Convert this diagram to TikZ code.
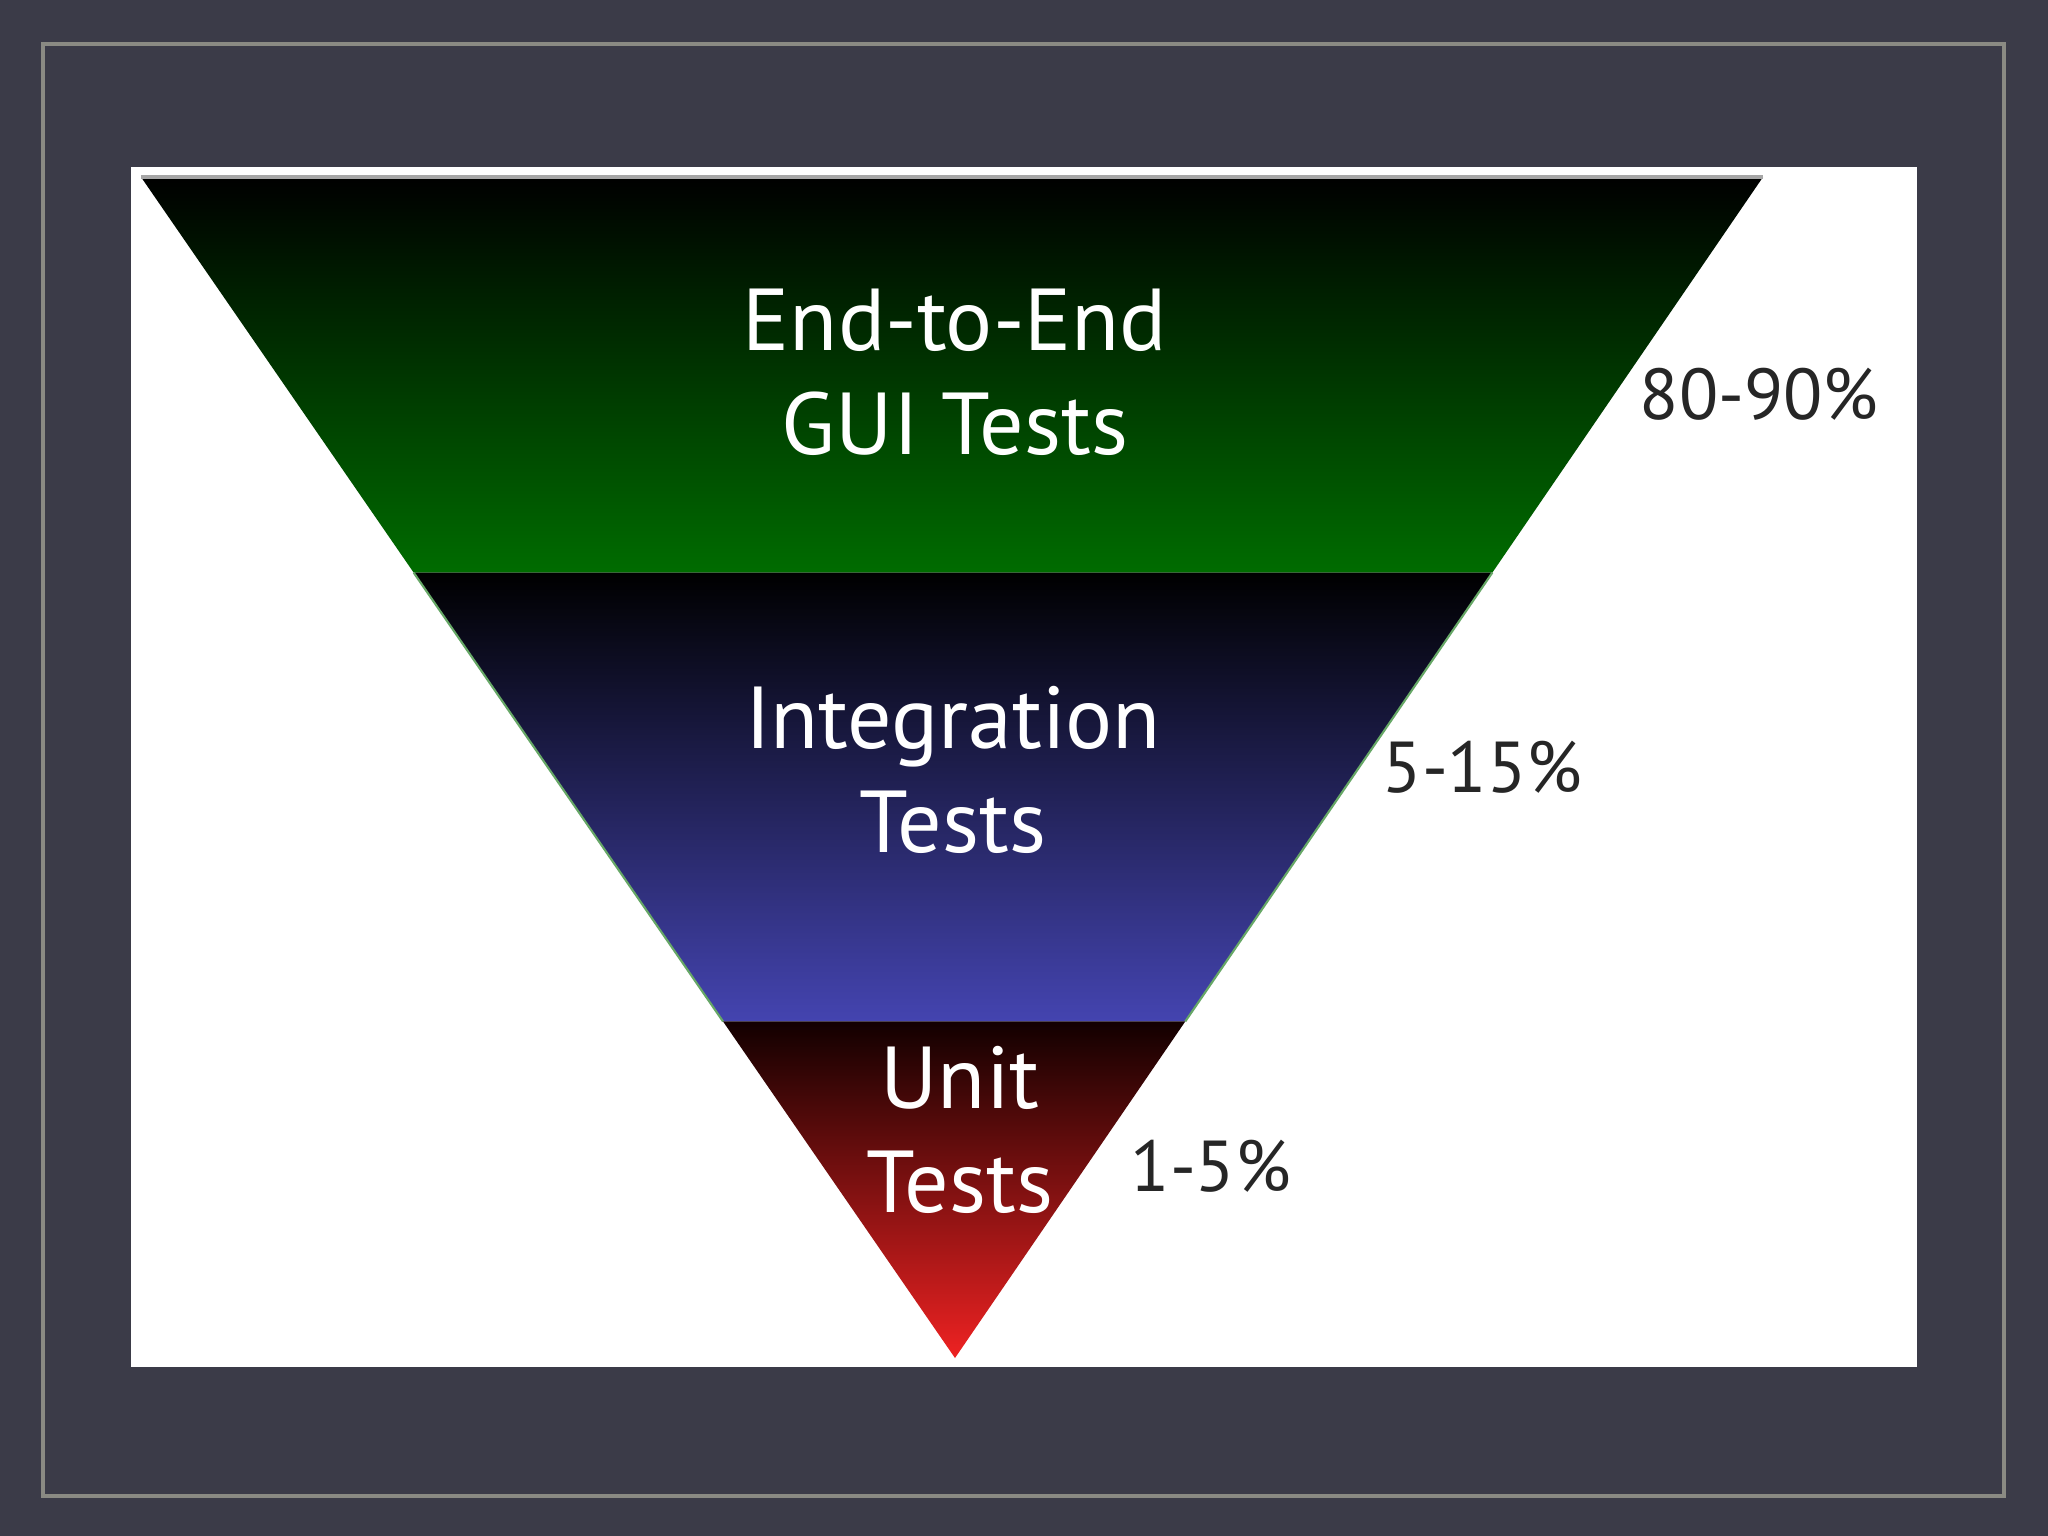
\documentclass[tikz,border=0pt]{standalone}
\usepackage{fontspec}
\setmainfont{PT Sans}
\usepackage{xcolor}
\usepackage{tikz}
\usetikzlibrary{calc}
\definecolor{figslate}{HTML}{3B3B48}
\definecolor{figframe}{HTML}{8A8A83}
\definecolor{figgreen}{HTML}{006C00}
\definecolor{figblue}{HTML}{4444B0}
\definecolor{figred}{HTML}{EE2222}
\definecolor{figdarkred}{HTML}{120000}
\definecolor{figink}{HTML}{262626}
\tikzset{
  band/.style={white,inner sep=0pt,align=center,font=\fontsize{25}{29.5}\selectfont},
  share/.style={figink,inner sep=0pt,anchor=west,font=\fontsize{20.5}{20.5}\selectfont}
}

\begin{document}
\begin{tikzpicture}[x=0.01cm,y=-0.01cm]
    \useasboundingbox (0,0) rectangle (2048,1536);
    \fill[figslate] (0,0) rectangle (2048,1536);
    \draw[figframe,line width=1pt] (43,44) rectangle (2004,1496);
    \fill[white] (131,167) rectangle (1917,1367);
    % inverted pyramid
    \coordinate (tl) at (141,177);
    \coordinate (tr) at (1763,177);
    \coordinate (apex) at (955,1358);
    \coordinate (gl) at ($(tl)!0.335!(apex)$);
    \coordinate (gr) at ($(tr)!0.335!(apex)$);
    \coordinate (bl) at ($(tl)!0.715!(apex)$);
    \coordinate (br) at ($(tr)!0.715!(apex)$);
    \shade[top color=black,bottom color=figgreen] (tl) -- (tr) -- (gr) -- (gl) -- cycle;
    \shade[top color=black,bottom color=figblue] (gl) -- (gr) -- (br) -- (bl) -- cycle;
    \shade[top color=figdarkred,bottom color=figred] (bl) -- (br) -- (apex) -- cycle;
    \draw[gray!70,line width=1.2pt] (tl) -- (tr);
    \draw[figgreen!60!white,line width=0.6pt] (gl) -- (bl) (gr) -- (br);
    \node[band] (e2e) at (955,372) {End-to-End\\GUI Tests};
    \node[band] (integ) at (953,770) {Integration\\Tests};
    \node[band] (unit) at (960,1130) {Unit\\Tests};
    \node[share] (p8090) at (1639,394) {80-90\%};
    \node[share] (p515) at (1382,767) {5-15\%};
    \node[share] (p15) at (1130,1166) {1-5\%};
  \end{tikzpicture}
\end{document}
